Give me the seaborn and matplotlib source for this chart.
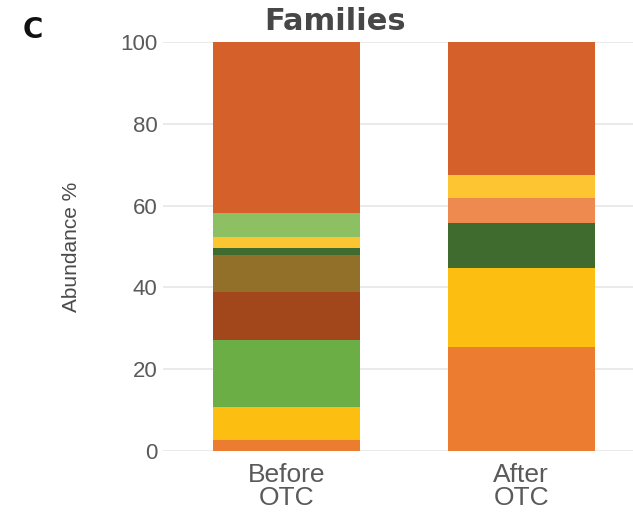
import matplotlib
matplotlib.use("Agg")
import matplotlib.pyplot as plt
import seaborn as sns
import pandas as pd
import numpy as np

# Relative abundance (%) of bacterial families, stacked bottom to top
samples = ["Before\nOTC", "After\nOTC"]
families = ["F1", "F2", "F3", "F4", "F5", "F6", "F7", "F8", "F9", "F10"]
before_otc = [2.7, 8.1, 16.3, 11.8, 9.0, 1.7, 0.0, 2.7, 5.9, 41.8]
after_otc = [25.4, 19.3, 0.0, 0.0, 0.0, 11.0, 6.2, 5.6, 0.0, 32.5]
family_colors = ["#EC7C30", "#FDBE12", "#6AAE45", "#A2471C", "#93702A",
                 "#3F6B2F", "#EE8A50", "#FDC531", "#8DC062", "#D5602A"]
y_ticks = [0, 20, 40, 60, 80, 100]

sns.set_theme(style="white")
plt.rcParams["font.family"] = ["Liberation Sans", "DejaVu Sans"]

df = pd.DataFrame({"Before\nOTC": before_otc, "After\nOTC": after_otc}, index=families)
cum = df.cumsum()

fig = plt.figure(figsize=(6.33, 5.12), dpi=100)
ax = fig.add_axes([163 / 633, 61 / 512, 470 / 633, 409 / 512])

# Draw cumulative tops from the highest layer down so lower layers sit on top
for fam, color in reversed(list(zip(families, family_colors))):
    layer = pd.DataFrame({"sample": samples, "top": cum.loc[fam, samples].values})
    sns.barplot(data=layer, x="sample", y="top", order=samples, color=color,
                width=0.627, saturation=1, linewidth=0, edgecolor="none",
                ax=ax, zorder=3)

ax.set_xlim(-0.527, 1.477)
ax.set_ylim(0, 100)
ax.set_yticks(y_ticks)
ax.set_yticklabels([str(t) for t in y_ticks], fontsize=16, color="#5a5a5a")
ax.yaxis.grid(True, color="#e6e6e6", linewidth=1.2, zorder=0)
ax.xaxis.grid(False)
ax.tick_params(axis="y", length=0, pad=4)
ax.tick_params(axis="x", length=0, pad=9)
for lab in ax.get_xticklabels():
    lab.set_fontsize(19)
    lab.set_color("#5a5a5a")
    lab.set_linespacing(0.9)
ax.set_xlabel("")
ax.set_ylabel("Abundance %", fontsize=15, color="#4a4a4a", labelpad=28)
for s in ax.spines.values():
    s.set_visible(False)

fig.text(335 / 633, 1 - 22 / 512, "Families", ha="center", va="center",
         fontsize=22, fontweight="bold", color="#474747", family="DejaVu Sans")
fig.text(33 / 633, 1 - 30 / 512, "C", ha="center", va="center",
         fontsize=20, fontweight="bold", color="#111111", family="DejaVu Sans")

fig.savefig("out.png", dpi=100, facecolor="white")
